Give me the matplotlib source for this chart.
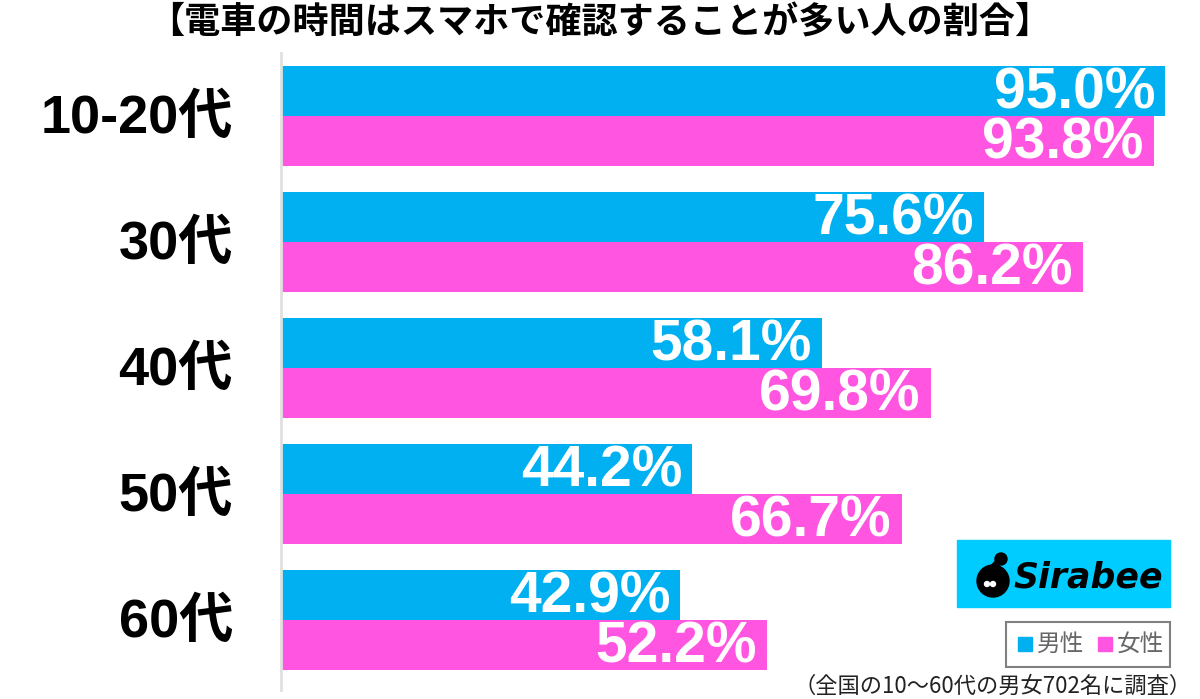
import numpy as np
import matplotlib.pyplot as plt
from matplotlib.patches import Rectangle, Circle

plt.rcParams['font.family'] = ['Noto Sans CJK JP', 'DejaVu Sans']

# data
categories = ["10-20代", "30代", "40代", "50代", "60代"]
male = [95.0, 75.6, 58.1, 44.2, 42.9]
female = [93.8, 86.2, 69.8, 66.7, 52.2]
series_names = ["男性", "女性"]
title = "【電車の時間はスマホで確認することが多い人の割合】"
note = "（全国の10～60代の男女702名に調査）"

blue = "#00B0F0"
pink = "#FF55E1"
num_font = ['Liberation Sans', 'Noto Sans CJK JP']

W, H = 1200, 699
fig = plt.figure(figsize=(W / 100, H / 100), dpi=100)

# axes in pixel geometry: x from 281 to 1165 (0..95), y from 53 to 690
ax = fig.add_axes([281 / W, 1 - 690 / H, (1165 - 281) / W, (690 - 53) / H])
ax.set_xlim(0, 95)
ax.set_ylim(4.556, -0.5)
ax.axis("off")

y = np.arange(len(categories))
bh = 50 / 126
ax.barh(y - bh / 2, male, height=bh, color=blue, zorder=2)
ax.barh(y + bh / 2, female, height=bh, color=pink, zorder=2)
ax.plot([0, 0], [-0.5, 4.556], color="#e0e0e0", lw=2, zorder=3, clip_on=False)

pad = 10 / ((1165 - 281) / 95)
for i in range(len(categories)):
    ax.text(male[i] - pad, y[i] - bh / 2 + 0.02, f"{male[i]:.1f}%", color="white",
            fontsize=41, fontweight="bold", family=num_font, ha="right", va="center", zorder=4)
    ax.text(female[i] - pad, y[i] + bh / 2 + 0.02, f"{female[i]:.1f}%", color="white",
            fontsize=41, fontweight="bold", family=num_font, ha="right", va="center", zorder=4)
    ax.text(-48 / 9.305, y[i] + 0.02, categories[i], color="black", fontsize=39,
            fontweight="bold", family=num_font, ha="right", va="center", clip_on=False)

fig.text(600 / W, 1 - 23 / H, title, fontsize=26, fontweight="bold", ha="center", va="center")
fig.text(1192 / W, 1 - 686 / H, note, fontsize=16, ha="right", va="center", color="#222222")

# logo
lg = fig.add_axes([0, 0, 1, 1], zorder=5)
lg.set_xlim(0, W)
lg.set_ylim(H, 0)
lg.axis("off")
lg.add_patch(Rectangle((957, 540), 213, 67, color="#00CCFF"))
lg.add_patch(Circle((993, 581), 16, color="black"))
lg.add_patch(Circle((1001, 559), 6, color="black"))
lg.plot([991, 1001], [570, 559], color="black", lw=5, solid_capstyle="round")
lg.add_patch(Circle((987, 584), 2.5, color="white"))
lg.add_patch(Circle((993, 584), 2.5, color="white"))
lg.text(1088, 577, "Sirabee", fontsize=25, fontweight="bold", fontstyle="italic",
        family="DejaVu Sans", ha="center", va="center", color="black")

# legend
lg.add_patch(Rectangle((1006, 622), 164, 45, fill=False, edgecolor="#808080", lw=1.5))
lg.add_patch(Rectangle((1018, 637), 14, 14, color=blue))
lg.text(1037, 644, series_names[0], fontsize=17, color="#666666", ha="left", va="center")
lg.add_patch(Rectangle((1098, 637), 14, 14, color=pink))
lg.text(1117, 644, series_names[1], fontsize=17, color="#666666", ha="left", va="center")

fig.savefig("out.png", dpi=100, facecolor="white")
